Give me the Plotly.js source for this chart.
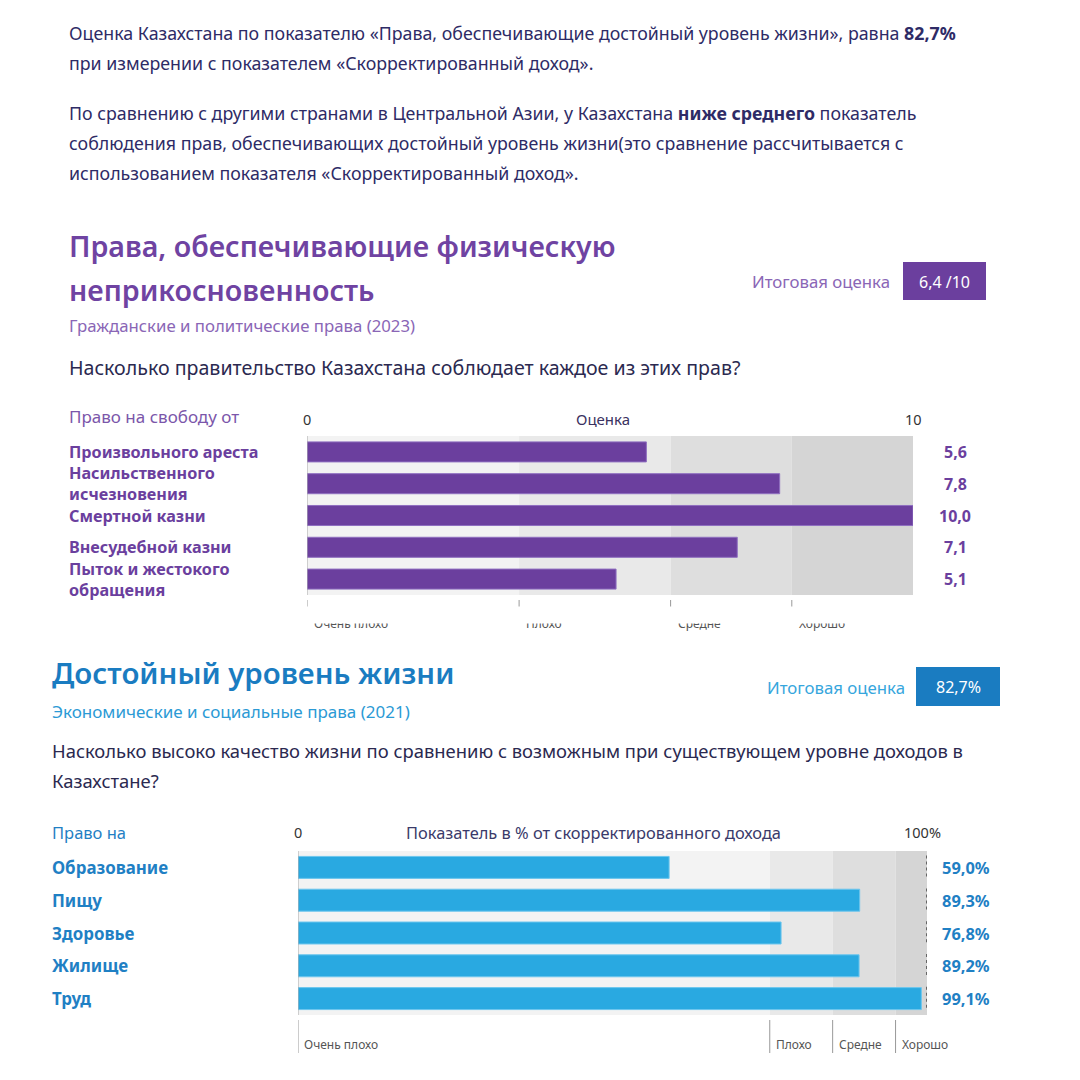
<!DOCTYPE html>
<html>
<head>
<meta charset="utf-8">
<script src="https://cdn.plot.ly/plotly-3.0.1.min.js"></script>
<style>html,body{margin:0;padding:0;background:#fff;}#chart{width:1080px;height:1080px;}</style>
</head>
<body>
<div id="chart"></div>
<script>
// ---------- data ----------
const purpleCategories = ['Произвольного ареста', 'Насильственного<br>исчезновения', 'Смертной казни', 'Внесудебной казни', 'Пыток и жестокого<br>обращения'];
const purpleScores = [5.6, 7.8, 10.0, 7.1, 5.1];
const purpleBandEdges = [0, 3.5, 6, 8, 10];
const purpleTotal = 6.4;
const purpleMax = 10;

const blueCategories = ['Образование', 'Пищу', 'Здоровье', 'Жилище', 'Труд'];
const blueValues = [59.0, 89.3, 76.8, 89.2, 99.1];
const blueBandEdges = [0, 75, 85, 95, 100];
const blueTotal = 82.7;

const bandLabels = ['Очень плохо', 'Плохо', 'Средне', 'Хорошо'];

// ---------- helpers ----------
const W = 1080, H = 1080;
const px = x => x / W;
const py = y => 1 - y / H;
const fmt = v => v.toFixed(1).replace('.', ',');
const FONT = 'Noto Sans, Open Sans, sans-serif';

const PURPLE = '#6b3f9e';
const PURPLE_LIGHT = '#8a66b6';
const BLUE = '#1f80c4';
const BLUE_BAR = '#29a9e1';
const BLUE_LIGHT = '#36a6dd';
const NAVY = '#2e2b66';
const bandColors = ['#f3f3f3', '#e9e9e9', '#dedede', '#d5d5d5'];

const annotations = [];
const shapes = [];

function txt(text, x, y, opts = {}) {
  annotations.push(Object.assign({
    text: text, xref: 'paper', yref: 'paper', x: px(x), y: py(y),
    xanchor: 'left', yanchor: 'middle', showarrow: false,
    borderpad: 0, borderwidth: 0,
    font: {family: FONT, size: 16, color: NAVY}
  }, opts));
}

// ---------- top paragraphs ----------
const pFont = {family: FONT, size: 17.8, color: NAVY};
txt('Оценка Казахстана по показателю «Права, обеспечивающие достойный уровень жизни», равна <b>82,7%</b>', 69, 33, {font: pFont});
txt('при измерении с показателем «Скорректированный доход».', 69, 63, {font: pFont});
txt('По сравнению с другими странами в Центральной Азии, у Казахстана <b>ниже среднего</b> показатель', 69, 113, {font: pFont});
txt('соблюдения прав, обеспечивающих достойный уровень жизни(это сравнение рассчитывается с', 69, 143, {font: pFont});
txt('использованием показателя «Скорректированный доход».', 69, 173, {font: pFont});

// ---------- purple section header ----------
const tPurple = {family: FONT, size: 28.6, color: '#6f43a2', weight: 600};
txt('Права, обеспечивающие физическую', 69, 246, {font: tPurple});
txt('неприкосновенность', 69, 289, {font: tPurple});
txt('Гражданские и политические права (2023)', 69, 325, {font: {family: FONT, size: 16.8, color: PURPLE_LIGHT}});
txt('Насколько правительство Казахстана соблюдает каждое из этих прав?', 69, 367, {font: {family: FONT, size: 19.6, color: '#2b2950'}});
txt('Итоговая оценка', 890, 282, {xanchor: 'right', font: {family: FONT, size: 16.8, color: PURPLE_LIGHT}});
shapes.push({type: 'rect', xref: 'paper', yref: 'paper', x0: px(903), x1: px(986), y0: py(300), y1: py(262), fillcolor: PURPLE, line: {width: 0}});
txt(fmt(purpleTotal) + ' /' + purpleMax, 944.5, 282, {xanchor: 'center', font: {family: FONT, size: 16, color: '#ffffff'}});

// purple axis header
txt('Право на свободу от', 69, 417, {font: {family: FONT, size: 17, color: '#7b56aa'}});
txt('0', 307, 419, {xanchor: 'center', font: {family: FONT, size: 14.5, color: '#333'}});
txt('Оценка', 603, 419, {xanchor: 'center', font: {family: FONT, size: 15, color: '#3a3160'}});
txt(String(purpleMax), 913, 419, {xanchor: 'center', font: {family: FONT, size: 14.5, color: '#333'}});

// purple bands
for (let i = 0; i < purpleBandEdges.length - 1; i++) {
  shapes.push({type: 'rect', layer: 'below', xref: 'x', yref: 'y domain', x0: purpleBandEdges[i], x1: purpleBandEdges[i + 1], y0: 0, y1: 1, fillcolor: bandColors[i], line: {width: 0}});
  shapes.push({type: 'line', xref: 'x', yref: 'paper', x0: purpleBandEdges[i], x1: purpleBandEdges[i], y0: py(623), y1: py(600), line: {color: '#999', width: 1}});
  annotations.push({text: bandLabels[i], xref: 'x', yref: 'paper', x: purpleBandEdges[i], y: py(624), xanchor: 'left', yanchor: 'middle', xshift: 5, showarrow: false, font: {family: FONT, size: 12, color: '#555'}});
}
shapes.push({type: 'line', xref: 'x', yref: 'y domain', x0: 0, x1: 0, y0: 0, y1: 1, line: {color: '#aaa', width: 1}});

// purple category + value labels
purpleCategories.forEach((c, i) => {
  annotations.push({text: '<b>' + c + '</b>', xref: 'paper', yref: 'y', x: px(69), y: i, xanchor: 'left', yanchor: 'middle', align: 'left',
    borderpad: 0, borderwidth: 0, showarrow: false, font: {family: FONT, size: 16.2, color: PURPLE}});
  annotations.push({text: '<b>' + fmt(purpleScores[i]) + '</b>', xref: 'paper', yref: 'y', x: px(955), y: i, xanchor: 'center', yanchor: 'middle', showarrow: false, font: {family: FONT, size: 16, color: PURPLE}});
});

// white cover to clip the cut-off band labels
annotations.push({text: ' ', xref: 'paper', yref: 'paper', x: px(290), y: py(624), xanchor: 'left', yanchor: 'bottom', width: 700, height: 16, bgcolor: '#ffffff', showarrow: false, font: {size: 10}, borderpad: 0});

// ---------- blue section header ----------
txt('Достойный уровень жизни', 52, 673, {font: {family: FONT, size: 29.4, color: '#1a7cc1', weight: 600}});
txt('Экономические и социальные права (2021)', 52, 711, {font: {family: FONT, size: 17, color: '#2b9ad5'}});
txt('Итоговая оценка', 905, 687, {xanchor: 'right', font: {family: FONT, size: 16.8, color: BLUE_LIGHT}});
shapes.push({type: 'rect', xref: 'paper', yref: 'paper', x0: px(916), x1: px(1000), y0: py(706), y1: py(667), fillcolor: '#1a7cc1', line: {width: 0}});
txt(fmt(blueTotal) + '%', 958, 687, {xanchor: 'center', font: {family: FONT, size: 16, color: '#ffffff'}});
txt('Насколько высоко качество жизни по сравнению с возможным при существующем уровне доходов в', 52, 750, {font: {family: FONT, size: 18.4, color: '#2b2950'}});
txt('Казахстане?', 52, 780, {font: {family: FONT, size: 18.4, color: '#2b2950'}});

// blue axis header
txt('Право на', 52, 832, {font: {family: FONT, size: 16.5, color: BLUE}});
txt('0', 298, 832, {xanchor: 'center', font: {family: FONT, size: 14.5, color: '#333'}});
txt('Показатель в % от скорректированного дохода', 593, 832, {xanchor: 'center', font: {family: FONT, size: 16.4, color: '#3a3a6a'}});
txt(blueBandEdges[blueBandEdges.length - 1] + '%', 922, 832, {xanchor: 'center', font: {family: FONT, size: 14.5, color: '#333'}});

// blue bands
for (let i = 0; i < blueBandEdges.length - 1; i++) {
  shapes.push({type: 'rect', layer: 'below', xref: 'x2', yref: 'y2 domain', x0: blueBandEdges[i], x1: blueBandEdges[i + 1], y0: 0, y1: 1, fillcolor: bandColors[i], line: {width: 0}});
  shapes.push({type: 'line', xref: 'x2', yref: 'paper', x0: blueBandEdges[i], x1: blueBandEdges[i], y0: py(1053), y1: py(1020), line: {color: '#999', width: 1}});
  annotations.push({text: bandLabels[i], xref: 'x2', yref: 'paper', x: blueBandEdges[i], y: py(1044), xanchor: 'left', yanchor: 'middle', xshift: 4, showarrow: false, font: {family: FONT, size: 12, color: '#555'}});
}
shapes.push({type: 'line', xref: 'x2', yref: 'y2 domain', x0: 0, x1: 0, y0: 0, y1: 1, line: {color: '#aaa', width: 1}});

blueCategories.forEach((c, i) => {
  annotations.push({text: '<b>' + c + '</b>', xref: 'paper', yref: 'y2', x: px(52), y: i, xanchor: 'left', yanchor: 'middle', borderpad: 0, borderwidth: 0, showarrow: false, font: {family: FONT, size: 16.9, color: BLUE}});
  annotations.push({text: '<b>' + fmt(blueValues[i]) + '%</b>', xref: 'paper', yref: 'y2', x: px(942), y: i, xanchor: 'left', yanchor: 'middle', borderpad: 0, borderwidth: 0, showarrow: false, font: {family: FONT, size: 16.4, color: BLUE}});
  shapes.push({type: 'line', xref: 'x2', yref: 'y2', x0: 100, x1: 100, y0: i - 0.36, y1: i + 0.36, line: {color: '#666', width: 2, dash: 'dot'}});
});

// ---------- traces ----------
const traces = [
  {type: 'bar', orientation: 'h', x: purpleScores, y: purpleCategories.map((c, i) => i), xaxis: 'x', yaxis: 'y',
   marker: {color: PURPLE, line: {color: '#8f6fc0', width: 1}}, width: 0.63, hoverinfo: 'skip'},
  {type: 'bar', orientation: 'h', x: blueValues, y: blueCategories.map((c, i) => i), xaxis: 'x2', yaxis: 'y2',
   marker: {color: BLUE_BAR, line: {color: '#6cc6ee', width: 1}}, width: 0.67, hoverinfo: 'skip'}
];

const hidden = {showgrid: false, zeroline: false, showticklabels: false, ticks: '', showline: false, fixedrange: true};

const layout = {
  width: W, height: H,
  margin: {l: 0, r: 0, t: 0, b: 0},
  paper_bgcolor: '#ffffff', plot_bgcolor: 'rgba(0,0,0,0)',
  showlegend: false,
  xaxis: Object.assign({}, hidden, {domain: [px(307), px(913)], range: [0, purpleMax], anchor: 'y'}),
  yaxis: Object.assign({}, hidden, {domain: [py(595), py(436)], range: [4.5, -0.5], anchor: 'x'}),
  xaxis2: Object.assign({}, hidden, {domain: [px(298), px(927)], range: [0, 100], anchor: 'y2'}),
  yaxis2: Object.assign({}, hidden, {domain: [py(1015), py(851)], range: [4.5, -0.5], anchor: 'x2'}),
  shapes: shapes,
  annotations: annotations,
  font: {family: FONT}
};

Plotly.newPlot('chart', traces, layout, {staticPlot: true, displayModeBar: false});
</script>
</body>
</html>
